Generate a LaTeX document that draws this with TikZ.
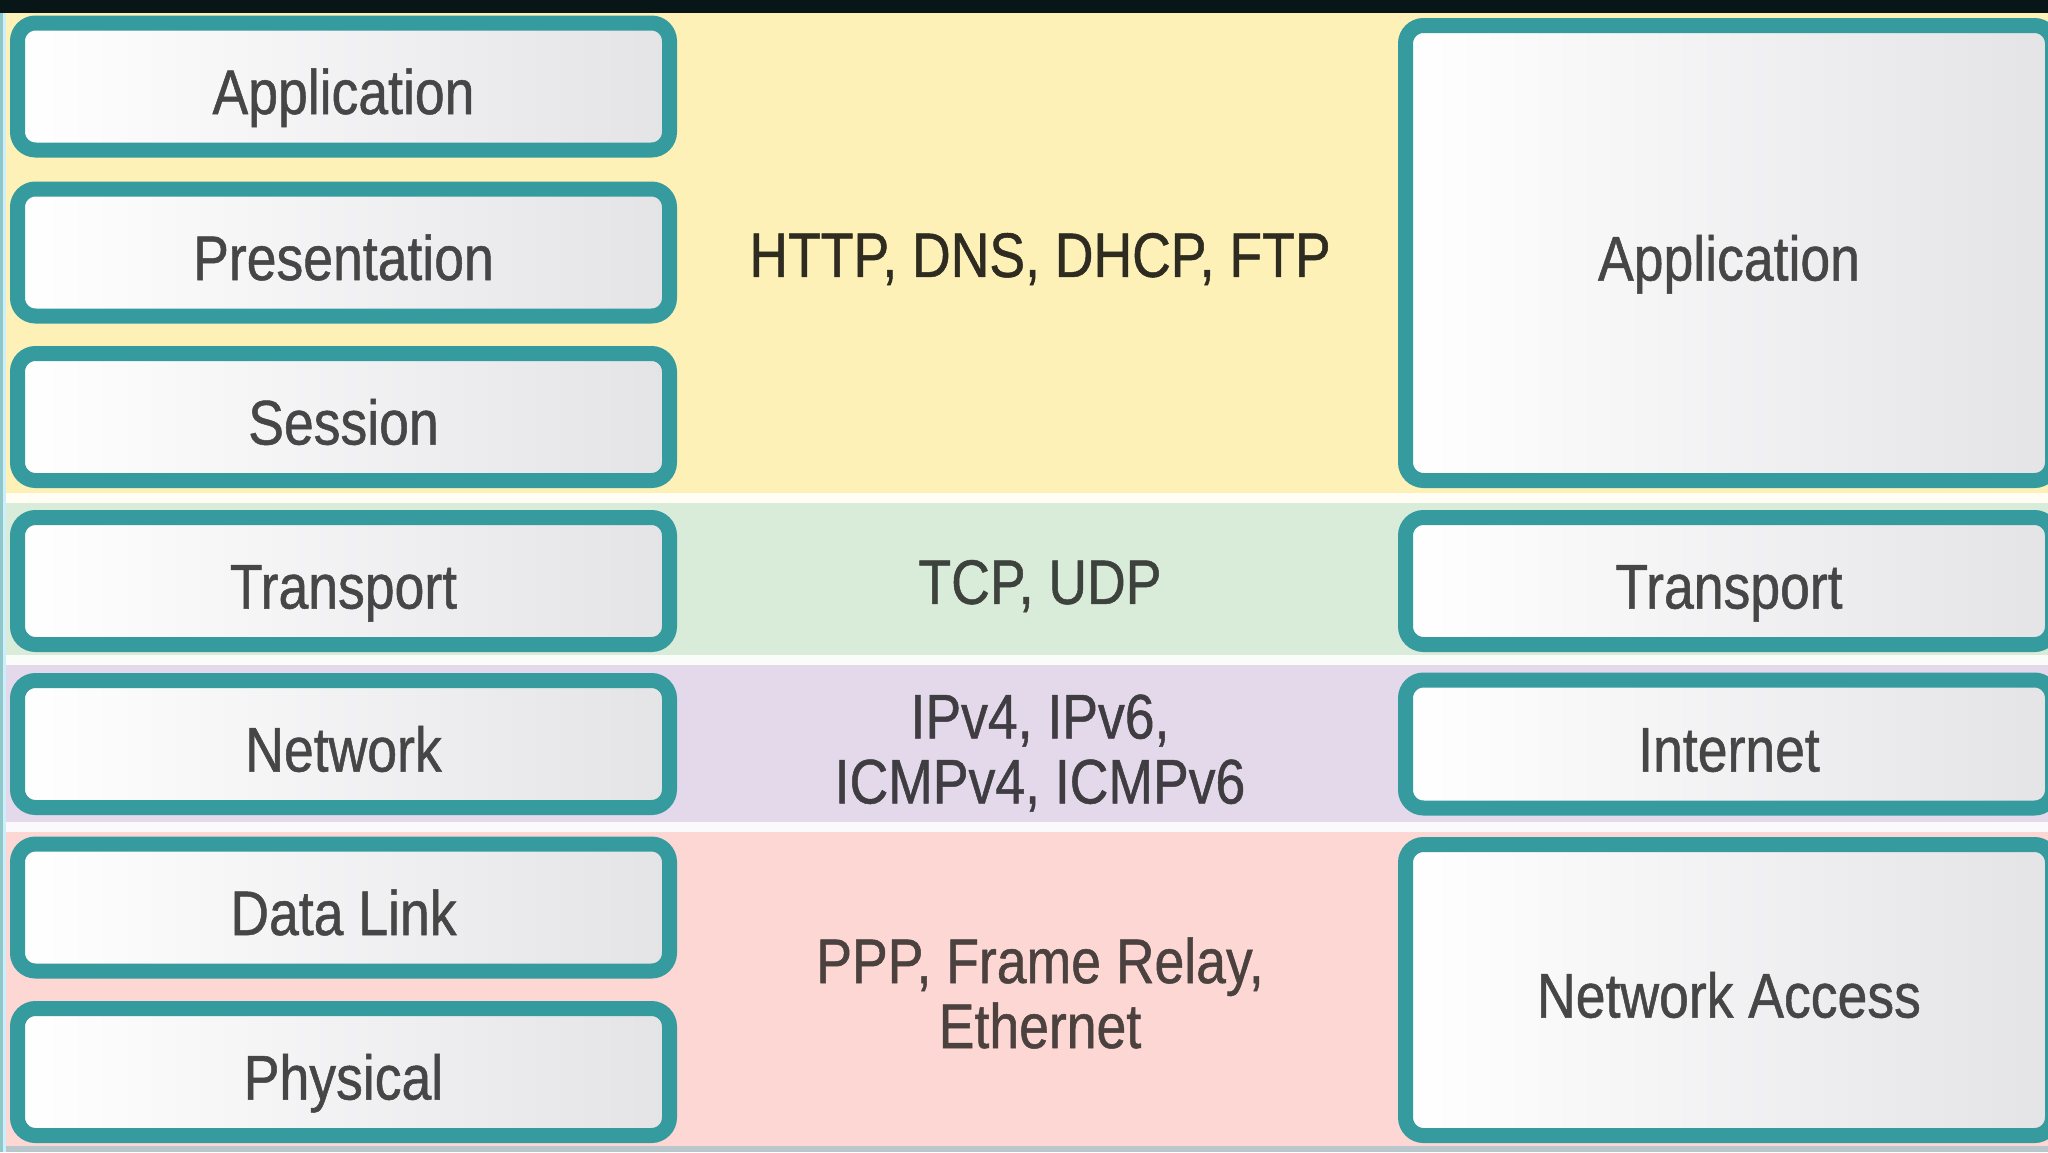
\documentclass[tikz,border=0pt]{standalone}
\usepackage{fontspec}
\setmainfont{Liberation Sans}[FakeStretch=0.85,FakeBold=0.8]
\definecolor{tealbox}{RGB}{54,155,158}
\definecolor{bandY}{RGB}{253,241,184}
\definecolor{bandG}{RGB}{217,236,218}
\definecolor{bandP}{RGB}{227,217,234}
\definecolor{bandR}{RGB}{252,215,211}
\definecolor{txtgray}{RGB}{70,70,70}
\definecolor{topbar}{RGB}{8,22,24}
\definecolor{boxgray}{RGB}{228,228,231}
\begin{document}
\begin{tikzpicture}[x=1pt,y=-1pt,
  bigfont/.style={font=\fontsize{63}{65}\selectfont},
  layerbox/.style={draw=tealbox, line width=15pt, rounded corners=18pt,
    left color=white, right color=boxgray, text=txtgray, bigfont,
    inner sep=0pt, outer sep=0pt, text height=55pt, text depth=0pt},
  osibox/.style={layerbox, minimum width=652pt, minimum height=127pt},
  tcpbox/.style={layerbox, minimum width=647pt},
  proto/.style={bigfont, align=center, inner sep=0pt}
]
\useasboundingbox (0,0) rectangle (2048,1152);
% bands
\fill[bandY] (0,13) rectangle (2048,498);
\fill[bandG] (0,498) rectangle (2048,660);
\fill[bandP] (0,660) rectangle (2048,827);
\fill[bandR] (0,827) rectangle (2048,1146);
\fill[white!85!bandY] (0,493) rectangle (2048,503);
\fill[white!85!bandG] (0,655) rectangle (2048,665);
\fill[white!85!bandP] (0,822) rectangle (2048,832);
\fill[topbar] (0,0) rectangle (2048,13);
\fill[black!25!white!90!cyan] (0,1146) rectangle (2048,1152);
\fill[tealbox!55] (0,13) rectangle (3,1152);
\fill[white!80!cyan] (3,13) rectangle (6,1152);

% OSI column
\node[osibox] (app)  at (343.5,86.5)  {Application};
\node[osibox] (pres) at (343.5,252.5) {Presentation};
\node[osibox] (sess) at (343.5,417)   {Session};
\node[osibox] (trans) at (343.5,581)  {Transport};
\node[osibox] (net)  at (343.5,744)   {Network};
\node[osibox] (dl)   at (343.5,907.5) {Data Link};
\node[osibox] (phy)  at (343.5,1072)  {Physical};

% protocols
\node[proto, text=black!70!bandY!60!black] (p1) at (1040,259) {HTTP, DNS, DHCP, FTP};
\node[proto, text=black!72!bandG] (p2) at (1040,586) {TCP, UDP};
\node[proto, text=black!72!bandP] (p3) at (1040,753) {IPv4, IPv6,\\ICMPv4, ICMPv6};
\node[proto, text=black!70!bandR] (p4) at (1040,993) {PPP, Frame Relay,\\Ethernet};

% TCP/IP column
\node[tcpbox, minimum height=455pt] (tapp) at (1729,253) {Application};
\node[tcpbox, minimum height=127pt] (ttrans) at (1729,581) {Transport};
\node[tcpbox, minimum height=128pt] (tnet) at (1729,744) {Internet};
\node[tcpbox, minimum height=291pt] (tna) at (1729,990) {Network Access};
\end{tikzpicture}
\end{document}
